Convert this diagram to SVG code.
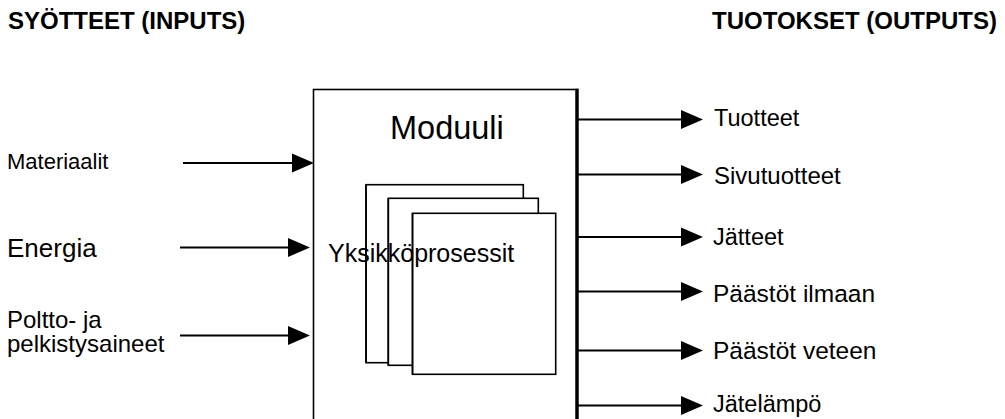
<svg xmlns="http://www.w3.org/2000/svg" width="1005" height="419" viewBox="0 0 1005 419">
  <defs>
    <marker id="head" markerUnits="userSpaceOnUse" markerWidth="23" markerHeight="21" refX="0" refY="10" orient="auto">
      <path d="M0,0.5 L22,10 L0,19.5 z" fill="#000"/>
    </marker>
    <style>
      text { font-family: "Liberation Sans", Arial, sans-serif; fill: #000; }
      .head { font-size: 24px; font-weight: bold; }
      .lbl { font-size: 23.5px; }
      .flow { stroke: #000; stroke-width: 2; fill: none; marker-end: url(#head); }
      .frame { fill: #fff; stroke: #000; stroke-width: 1.6; }
      .edge { stroke: #000; stroke-width: 1.6; fill: none; }
    </style>
  </defs>
  <rect width="1005" height="419" fill="#fff"/>

  <!-- column headings -->
  <text class="head" x="8" y="28.5">SYÖTTEET (INPUTS)</text>
  <text class="head" x="712" y="28.5">TUOTOKSET (OUTPUTS)</text>

  <!-- module box with stacked unit processes -->
  <g id="module">
    <rect class="frame" x="313.5" y="89.5" width="263.5" height="340"/>
    <line x1="577" y1="88.7" x2="577" y2="419" stroke="#000" stroke-width="3.5"/>
    <text x="390" y="139" style="font-size:32.5px">Moduuli</text>
  </g>
  <g id="unit-processes">
    <rect class="frame" x="366" y="184.7" width="157.3" height="178"/>
    <rect class="frame" x="388.3" y="198.3" width="150" height="167"/>
    <rect class="frame" x="412.5" y="213.3" width="143.2" height="161"/>
    <text x="328" y="262" style="font-size:25px">Yksikköprosessit</text>
    <!-- left edges stay visible over the caption -->
    <line class="edge" x1="366" y1="184.7" x2="366" y2="362.7"/>
    <line class="edge" x1="388.3" y1="198.3" x2="388.3" y2="365.3"/>
    <line class="edge" x1="412.5" y1="213.3" x2="412.5" y2="374.3"/>
  </g>

  <!-- inputs -->
  <g id="in-materials"><text x="7" y="169" style="font-size:22px">Materiaalit</text></g>
  <g id="in-energy"><text x="7" y="257" style="font-size:26px">Energia</text></g>
  <g id="in-fuels">
    <text x="7" y="328" style="font-size:24px">Poltto- ja</text>
    <text x="7" y="352" style="font-size:24px">pelkistysaineet</text>
  </g>

  <!-- outputs -->
  <g id="out-products"><text class="lbl" x="714" y="125.5">Tuotteet</text></g>
  <g id="out-byproducts"><text x="714" y="183.5" style="font-size:24px">Sivutuotteet</text></g>
  <g id="out-waste"><text class="lbl" x="713" y="245">Jätteet</text></g>
  <g id="out-air"><text x="713" y="301.5" style="font-size:24.5px">Päästöt ilmaan</text></g>
  <g id="out-water"><text x="713" y="358.5" style="font-size:24.5px">Päästöt veteen</text></g>
  <g id="out-heat"><text class="lbl" x="713" y="411.5">Jätelämpö</text></g>

  <!-- connectors -->
  <g id="connectors">
    <line class="flow" x1="183" y1="163" x2="292" y2="163"/>
    <line class="flow" x1="180" y1="247.5" x2="288" y2="247.5"/>
    <line class="flow" x1="180" y1="335.5" x2="288" y2="335.5"/>
    <line class="flow" x1="578" y1="119.5" x2="681" y2="119.5"/>
    <line class="flow" x1="578" y1="174.5" x2="681" y2="174.5"/>
    <line class="flow" x1="578" y1="237" x2="681" y2="237"/>
    <line class="flow" x1="578" y1="291.5" x2="681" y2="291.5"/>
    <line class="flow" x1="578" y1="350.5" x2="681" y2="350.5"/>
    <line class="flow" x1="578" y1="405.5" x2="681" y2="405.5"/>
  </g>
</svg>
